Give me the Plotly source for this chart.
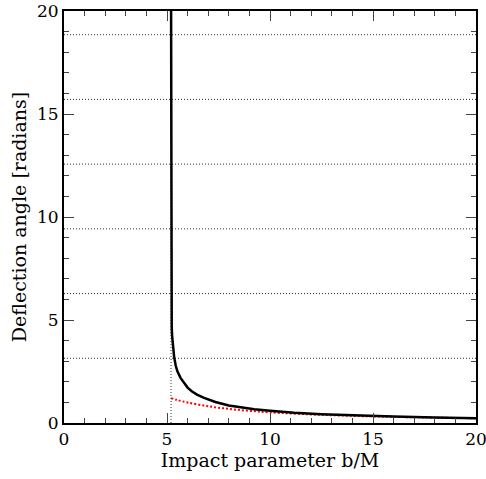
import plotly.graph_objects as go

# Critical impact parameter (b = 3*sqrt(3) M)
b_crit = 5.196152

# Exact deflection angle (black curve)
b_exact = [5.196152425, 5.19615245, 5.1961525, 5.19615295, 5.1961576, 5.196204,
           5.19667, 5.2014, 5.2118, 5.23, 5.248, 5.29, 5.346, 5.42, 5.5, 5.657,
           5.85, 6.0, 6.2, 6.455, 6.8, 7.348, 8.0, 8.5, 9.238, 10.0, 11.18, 12.5,
           14.0, 16.0, 18.0, 20.0]
alpha_exact = [21.2, 18.67, 17.63, 15.72, 13.42, 11.11,
               8.81, 6.50, 5.41, 4.63, 4.23, 3.65, 3.21, 2.80, 2.52, 2.19,
               1.89, 1.72, 1.54, 1.38, 1.22, 1.02, 0.85, 0.77, 0.672, 0.60, 0.50, 0.428,
               0.367, 0.310, 0.268, 0.236]

# Weak-field approximation (red dotted curve)
b_weak = [5.196, 5.5, 6, 7, 8, 9, 10, 12, 14, 16, 18, 20]
alpha_weak = [1.206, 1.117, 0.994, 0.812, 0.684, 0.590, 0.518, 0.415, 0.346,
              0.296, 0.259, 0.2295]

# Multiples of pi (horizontal dotted guides)
pi_levels = [3.1416, 6.2832, 9.4248, 12.5664, 15.7080, 18.8496]

fig = go.Figure()

for lev in pi_levels:
    fig.add_trace(go.Scatter(x=[0, 20], y=[lev, lev], mode="lines",
                             line=dict(color="#333333", width=1, dash="1px,2px"),
                             showlegend=False, hoverinfo="skip"))

fig.add_trace(go.Scatter(x=[b_crit, b_crit], y=[0, 20], mode="lines",
                         line=dict(color="#333333", width=1, dash="1px,2px"),
                         showlegend=False))

fig.add_trace(go.Scatter(x=b_weak, y=alpha_weak, mode="lines",
                         line=dict(color="red", width=2, dash="2px,2px", shape="spline"),
                         showlegend=False))

fig.add_trace(go.Scatter(x=b_exact, y=alpha_exact, mode="lines",
                         line=dict(color="black", width=2.5),
                         showlegend=False))

font_fam = "DejaVu Serif, serif"
axis_common = dict(
    showgrid=False, zeroline=False, automargin=False,
    showline=True, linecolor="black", linewidth=2, mirror="ticks",
    ticks="inside", ticklen=10, tickwidth=1, tickcolor="#444444",
    minor=dict(ticks="inside", ticklen=5, dtick=1, tickcolor="#444444", tickwidth=1),
    tickfont=dict(family=font_fam, size=17, color="black"),
    ticklabeloverflow="allow",
    range=[0, 20], dtick=5,
)

fig.update_layout(
    width=486, height=479,
    margin=dict(l=64, r=10, t=11, b=56),
    plot_bgcolor="white", paper_bgcolor="white",
    xaxis=dict(axis_common, title=dict(text="Impact parameter b/M",
                                       font=dict(family=font_fam, size=19, color="black"),
                                       standoff=5)),
    yaxis=dict(axis_common, title=dict(text="Deflection angle [radians]",
                                       font=dict(family=font_fam, size=19, color="black"),
                                       standoff=5)),
)

# drop the default 8px page margin so the figure fills the window
fig.write_html("out.html", config={"displayModeBar": False},
               post_script="document.body.style.margin='0';")
